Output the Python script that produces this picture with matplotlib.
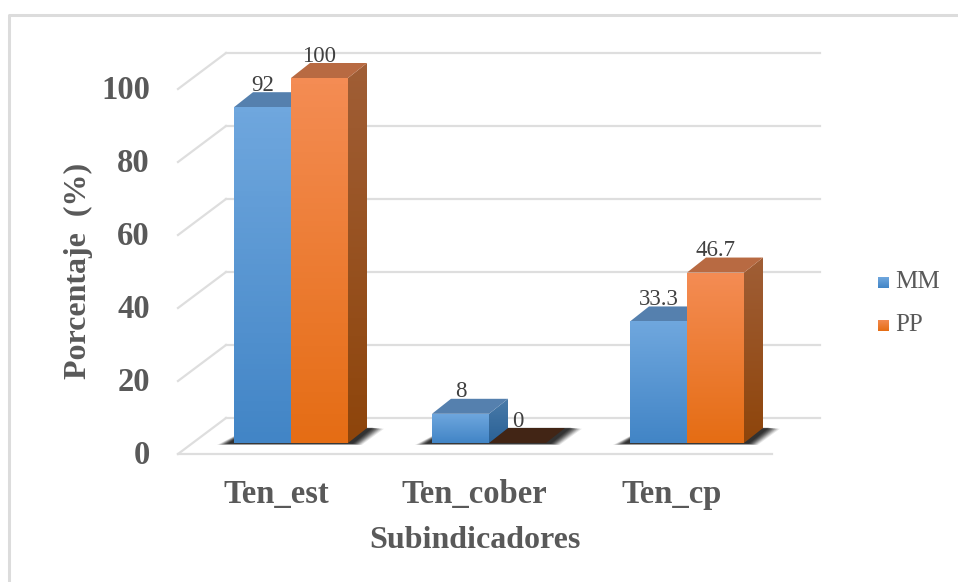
import numpy as np
import matplotlib
matplotlib.use('Agg')
import matplotlib.pyplot as plt
from matplotlib.colors import LinearSegmentedColormap
from matplotlib.patches import Polygon

categories = ['Ten_est', 'Ten_cober', 'Ten_cp']
mm = [92, 8, 33.3]
pp = [100, 0, 46.7]
mm_labels = ['92', '8', '33.3']
pp_labels = ['100', '0', '46.7']
yticks = [0, 20, 40, 60, 80, 100]

plt.rcParams['font.family'] = ['Liberation Serif', 'DejaVu Serif']

W, H = 958, 582
# size of one category / one percent in pixels
px_cat = 198.0
px_val = 3.65
x0_px = 291.0
y0_px = 443.0
bar_w = 57.0 / px_cat
depth_x = 19.0 / px_cat
depth_y = 15.0 / px_val
wall_x = 48.0 / px_cat
wall_y = 36.0 / px_val
floor_y = -11.0 / px_val
wall_right = (772.0 - x0_px) / px_cat

fig = plt.figure(figsize=(W / 100, H / 100), dpi=100)
ax = fig.add_axes([0, 0, 1, 1])
ax.set_xlim(-x0_px / px_cat, (W - x0_px) / px_cat)
ax.set_ylim((y0_px - H) / px_val, y0_px / px_val)
ax.axis('off')
xl = ax.get_xlim()
yl = ax.get_ylim()


def px_x(p):
    return xl[0] + p / px_cat


def px_y(p):
    return yl[1] - p / px_val


def grad_poly(pts, top, bottom, z):
    # polygon filled with a vertical gradient
    pts = np.array(pts)
    cmap = LinearSegmentedColormap.from_list('g', [top, bottom])
    im = ax.imshow(np.linspace(0, 1, 64).reshape(-1, 1), cmap=cmap, aspect='auto', zorder=z,
                   extent=[pts[:, 0].min(), pts[:, 0].max(), pts[:, 1].min(), pts[:, 1].max()])
    clip = Polygon(pts, closed=True, transform=ax.transData, fc='none', ec='none')
    ax.add_patch(clip)
    im.set_clip_path(clip)


def shadow(x_left, x_right, z):
    # soft shadow on the floor round the foot of a group
    alphas = [0.1, 0.14, 0.18, 0.22, 0.26, 0.3, 0.34, 0.38]
    for grow, a in zip(np.linspace(1.0, 0.35, 8), alphas):
        gx = grow * 17.0 / px_cat
        gy = grow * 2.0 / px_val
        top = depth_y * (1.05 - 0.1 * grow)
        pts = [(x_left - gx, -gy), (x_right + gx * 0.8, -gy),
               (x_right + depth_x + gx, top), (x_left + depth_x - gx * 0.3, top)]
        ax.add_patch(Polygon(pts, closed=True, fc='#1c1c1c', ec='none', alpha=a, zorder=z))


def bar3d(x, v, front, side, cap, z):
    # front, side and top faces of one bar
    r = x + bar_w
    if v > 0:
        grad_poly([(r, 0), (r + depth_x, depth_y), (r + depth_x, v + depth_y), (r, v)], side[0], side[1], z)
        grad_poly([(x, 0), (r, 0), (r, v), (x, v)], front[0], front[1], z + 0.1)
    ax.add_patch(Polygon([(x, v), (r, v), (r + depth_x, v + depth_y), (x + depth_x, v + depth_y)],
                         closed=True, fc=cap, ec='none', zorder=z))


# walls and floor grid
grid_c = '#dedede'
x_left_px = px_x(178)
for t in yticks:
    yb = floor_y + wall_y + t
    yf = floor_y + t
    ax.plot([x_left_px, x_left_px + wall_x], [yf, yb], color=grid_c, lw=1.6, zorder=1)
    ax.plot([x_left_px + wall_x, wall_right + wall_x], [yb, yb], color=grid_c, lw=1.6, zorder=1)
ax.plot([x_left_px, wall_right], [floor_y, floor_y], color=grid_c, lw=1.6, zorder=1)

blue_f = ('#6FA7DE', '#4285C6')
blue_s = ('#4A7BA9', '#2A6196')
orange_f = ('#F48C54', '#E56D14')
orange_s = ('#A05E36', '#8E450B')

for i in range(len(categories)):
    xm = i - bar_w
    shadow(xm, i + bar_w, 2)
    z = 3 + i
    bar3d(xm, mm[i], blue_f, blue_s, '#5580AE', z)
    if pp[i] > 0:
        bar3d(i, pp[i], orange_f, orange_s, '#B86A42', z + 0.3)
    else:
        bar3d(i, pp[i], orange_f, orange_s, '#422515', z - 0.3)
    ax.text(xm + bar_w * 0.5, mm[i] + depth_y - 1.0, mm_labels[i], ha='center', va='bottom',
            fontsize=16.5, color='#404040', zorder=10)
    ax.text(i + bar_w * 0.5, pp[i] + depth_y - 1.0, pp_labels[i], ha='center', va='bottom',
            fontsize=16.5, color='#404040', zorder=10)
    ax.text(i - 15 / px_cat, px_y(494), categories[i], ha='center', va='center', fontsize=23.5,
            fontweight='bold', color='#595959', zorder=10)

# y tick labels
for t in yticks:
    ax.text(px_x(150), floor_y + t - 0.3, str(t), ha='right', va='center', fontsize=23.5,
            fontweight='bold', color='#595959', zorder=10)

ax.text(px_x(78), px_y(271), 'Porcentaje  (%)', rotation=90, ha='center', va='center',
        fontsize=23, fontweight='bold', color='#595959', zorder=10)
ax.text(px_x(475), px_y(540), 'Subindicadores', ha='center', va='center',
        fontsize=23, fontweight='bold', color='#595959', zorder=10)

# legend
for name, ypx, cols in [('MM', 282, blue_f), ('PP', 325, orange_f)]:
    lx = px_x(878)
    ly = px_y(ypx)
    grad_poly([(lx, ly - 5.5 / px_val), (lx + 11 / px_cat, ly - 5.5 / px_val),
               (lx + 11 / px_cat, ly + 5.5 / px_val), (lx, ly + 5.5 / px_val)], cols[0], cols[1], 10)
    ax.text(px_x(895), ly, name, ha='left', va='center', fontsize=18, color='#595959', zorder=10)

ax.set_xlim(xl)
ax.set_ylim(yl)

# outer frame of the pasted picture
ax.plot([px_x(9), px_x(9), xl[1]], [yl[0], px_y(15), px_y(15)], color='#dcdcdc', lw=2.2, zorder=0)

fig.savefig('out.png', dpi=100)
